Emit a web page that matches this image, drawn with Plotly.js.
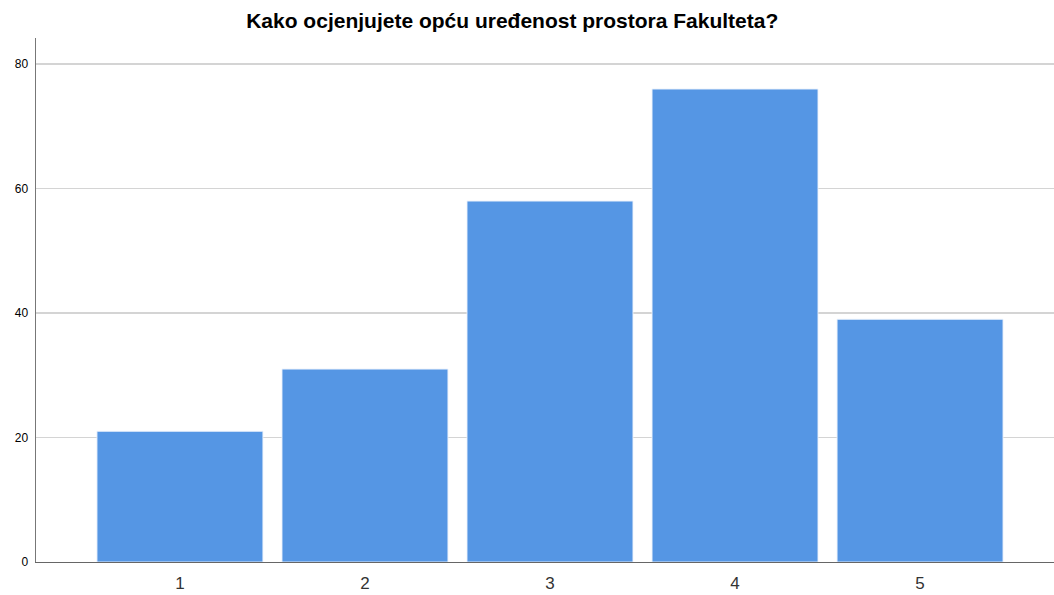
<!DOCTYPE html>
<html>
<head>
<meta charset="utf-8">
<script src="https://cdn.plot.ly/plotly-3.0.1.min.js"></script>
<style>html,body{margin:0;padding:0;background:#fff;}#chart{width:1054px;height:595px;}</style>
</head>
<body>
<div id="chart"></div>
<script>
const categories = [1, 2, 3, 4, 5];
const counts = [21, 31, 58, 76, 39];
const yTicks = [0, 20, 40, 60, 80];
const chartTitle = "Kako ocjenjujete opću uređenost prostora Fakulteta?";

const trace = {
  type: 'bar',
  x: categories,
  y: counts,
  marker: { color: '#5596E4', line: { color: 'rgba(235,242,252,0.9)', width: 1 } },
  hoverinfo: 'x+y'
};

const layout = {
  width: 1054,
  height: 595,
  margin: { l: 36, r: 0, t: 38, b: 33 },
  paper_bgcolor: '#ffffff',
  plot_bgcolor: '#ffffff',
  font: { family: 'Liberation Sans, Arial, sans-serif', color: '#000' },
  title: {
    text: '<b>' + chartTitle + '</b>',
    font: { size: 21, color: '#000', family: 'Liberation Sans, Arial, sans-serif' },
    xref: 'container', x: 0.486, xanchor: 'center',
    yref: 'container', y: 0.965, yanchor: 'middle'
  },
  bargap: 0.103,
  showlegend: false,
  xaxis: {
    range: [0.222, 5.724],
    tickvals: categories,
    ticktext: categories.map(String),
    ticks: '',
    showgrid: false,
    zeroline: false,
    showline: true,
    linecolor: '#666666',
    linewidth: 1,
    tickfont: { size: 17, color: '#333333' },
    ticklabelstandoff: 6
  },
  yaxis: {
    range: [0, 84.2],
    tickvals: yTicks,
    ticks: '',
    showgrid: true,
    gridcolor: '#d4d4d4',
    gridwidth: 1.5,
    zeroline: false,
    showline: true,
    linecolor: '#777777',
    linewidth: 1.5,
    tickfont: { size: 12, color: '#000' },
    ticklabelstandoff: 4
  }
};

Plotly.newPlot('chart', [trace], layout, { displayModeBar: false, staticPlot: true });
</script>
</body>
</html>
